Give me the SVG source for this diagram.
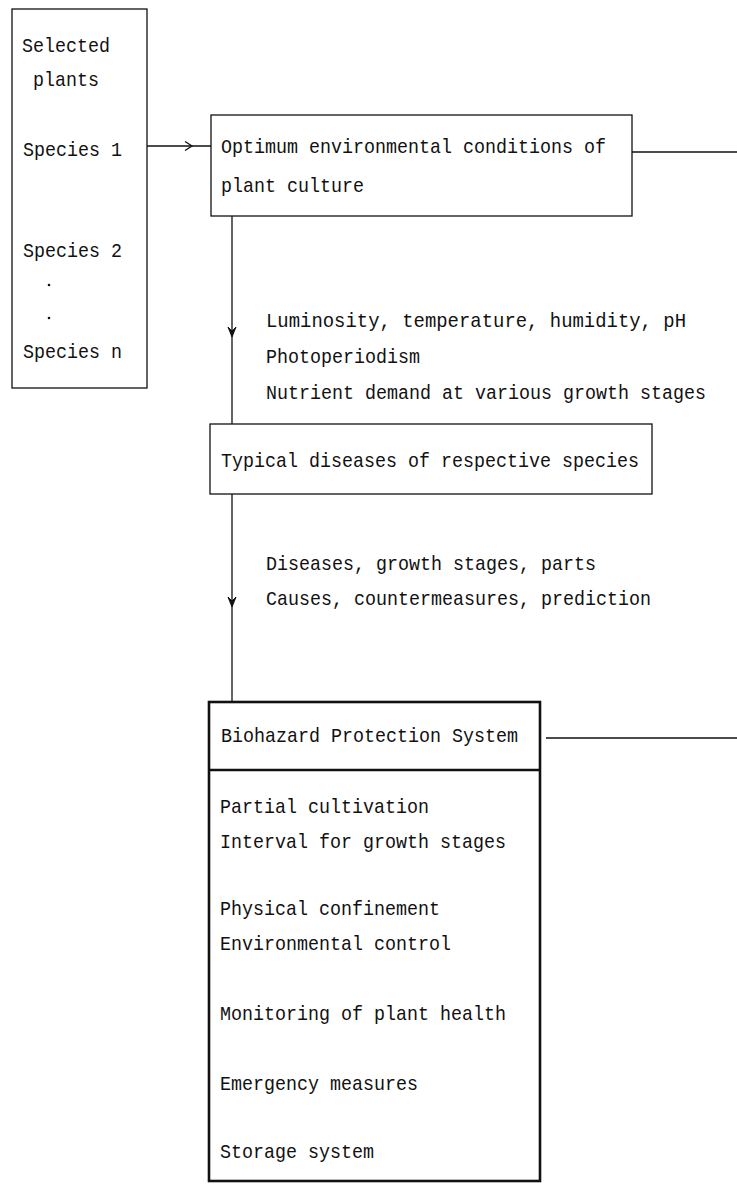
<svg xmlns="http://www.w3.org/2000/svg" width="737" height="1185" viewBox="0 0 737 1185">
<style>
text{font-family:"Liberation Mono","DejaVu Sans Mono",monospace;font-size:21px;fill:#111}
.box{fill:#fff;stroke:#111;stroke-width:1.3}
.thick{fill:#fff;stroke:#111;stroke-width:2.6}
.ln{stroke:#111;stroke-width:1.3;fill:none}
.ah{fill:#111;stroke:#111;stroke-width:1}
</style>
<rect width="737" height="1185" fill="#fff"/>
<g id="connectors">
<line class="ln" x1="147" y1="146" x2="211" y2="146"/>
<path class="ln" d="M185,141.5 L192,146 L185,150.5"/>
<line class="ln" x1="632" y1="152" x2="737" y2="152"/>
<line class="ln" x1="232" y1="216" x2="232" y2="424"/>
<path class="ah" d="M228,327 L232,337 L236,327 L232,331 Z"/>
<line class="ln" x1="232" y1="494" x2="232" y2="702"/>
<path class="ah" d="M228,597 L232,607 L236,597 L232,601 Z"/>
<line class="ln" x1="546" y1="738" x2="737" y2="738"/>
</g>
<g id="selected-plants">
<rect class="box" x="12" y="9" width="135" height="379"/>
<text x="22" y="52" textLength="88" lengthAdjust="spacingAndGlyphs">Selected</text>
<text x="33" y="86" textLength="66" lengthAdjust="spacingAndGlyphs">plants</text>
<text x="23" y="156" textLength="99" lengthAdjust="spacingAndGlyphs">Species 1</text>
<text x="23" y="257" textLength="99" lengthAdjust="spacingAndGlyphs">Species 2</text>
<circle cx="49" cy="285" r="1.3" fill="#111"/>
<circle cx="49" cy="318" r="1.3" fill="#111"/>
<text x="23" y="358" textLength="99" lengthAdjust="spacingAndGlyphs">Species n</text>
</g>
<g id="optimum-conditions">
<rect class="box" x="211" y="115" width="421" height="101"/>
<text x="221" y="153" textLength="385" lengthAdjust="spacingAndGlyphs">Optimum environmental conditions of</text>
<text x="221" y="192" textLength="143" lengthAdjust="spacingAndGlyphs">plant culture</text>
</g>
<g id="conditions-label">
<text x="266" y="327" textLength="420" lengthAdjust="spacingAndGlyphs">Luminosity, temperature, humidity, pH</text>
<text x="266" y="363" textLength="154" lengthAdjust="spacingAndGlyphs">Photoperiodism</text>
<text x="266" y="399" style="font-size:19.5px" textLength="440" lengthAdjust="spacingAndGlyphs">Nutrient demand at various growth stages</text>
</g>
<g id="typical-diseases">
<rect class="box" x="210" y="424" width="442" height="70"/>
<text x="221" y="467" textLength="418" lengthAdjust="spacingAndGlyphs">Typical diseases of respective species</text>
</g>
<g id="diseases-label">
<text x="266" y="570" textLength="330" lengthAdjust="spacingAndGlyphs">Diseases, growth stages, parts</text>
<text x="266" y="605" textLength="385" lengthAdjust="spacingAndGlyphs">Causes, countermeasures, prediction</text>
</g>
<g id="biohazard-system">
<rect class="thick" x="209" y="702" width="331" height="479"/>
<line class="thick" x1="209" y1="770" x2="540" y2="770"/>
<text x="221" y="742" textLength="297" lengthAdjust="spacingAndGlyphs">Biohazard Protection System</text>
<text x="220" y="813" textLength="209" lengthAdjust="spacingAndGlyphs">Partial cultivation</text>
<text x="220" y="848" textLength="286" lengthAdjust="spacingAndGlyphs">Interval for growth stages</text>
<text x="220" y="915" textLength="220" lengthAdjust="spacingAndGlyphs">Physical confinement</text>
<text x="220" y="950" textLength="231" lengthAdjust="spacingAndGlyphs">Environmental control</text>
<text x="220" y="1020" textLength="286" lengthAdjust="spacingAndGlyphs">Monitoring of plant health</text>
<text x="220" y="1090" textLength="198" lengthAdjust="spacingAndGlyphs">Emergency measures</text>
<text x="220" y="1158" textLength="154" lengthAdjust="spacingAndGlyphs">Storage system</text>
</g>
</svg>
